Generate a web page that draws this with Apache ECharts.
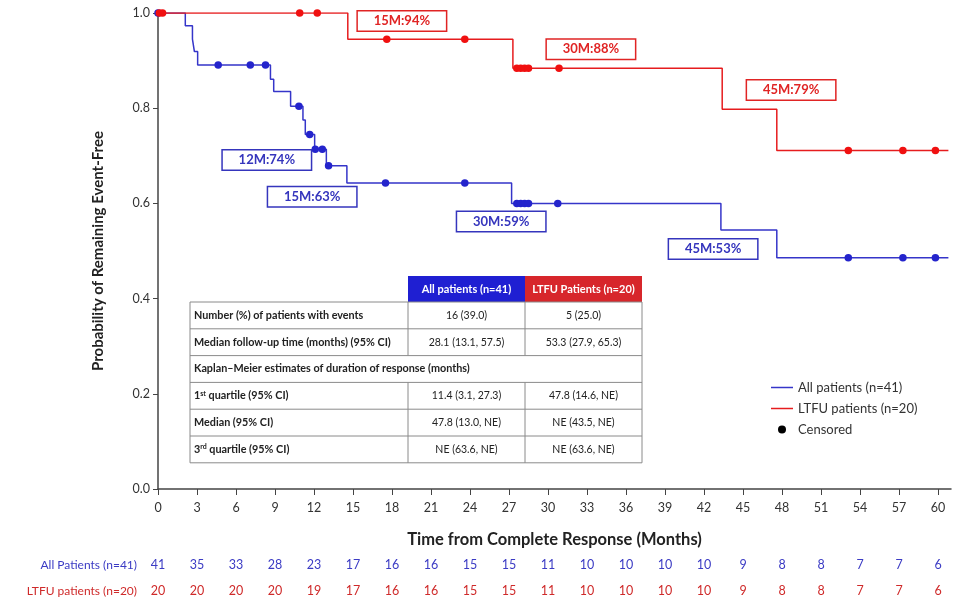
<!DOCTYPE html>
<html>
<head>
<meta charset="utf-8">
<script src="https://cdn.jsdelivr.net/npm/echarts@6/dist/echarts.min.js"></script>
<style>
  html, body { margin: 0; padding: 0; background: #fff; }
  #chart { width: 960px; height: 605px; }
</style>
</head>
<body>
<div id="chart"></div>
<script>
// KM steps: [month, probability after the drop]
var allSteps = [[0, 1.0], [2.1, 0.973], [2.65, 0.945], [2.8, 0.919], [3.05, 0.891], [8.65, 0.861], [8.9, 0.835],
  [10.2, 0.804], [11.15, 0.775], [11.33, 0.745], [12.05, 0.714], [12.95, 0.679], [14.53, 0.643],
  [27.2, 0.600], [43.3, 0.544], [47.6, 0.486], [60.8, 0.486]];
var ltfuSteps = [[0, 1.0], [14.6, 0.945], [27.3, 0.884], [43.4, 0.798], [47.6, 0.711], [60.8, 0.711]];
// censored times (months)
var allCensored = [0, 4.63, 7.1, 8.27, 10.84, 11.67, 12.1, 12.64, 13.12, 17.5, 23.6, 27.6, 27.9, 28.2, 28.5, 30.75, 53.1, 57.3, 59.8];
var ltfuCensored = [0.1, 0.35, 10.9, 12.25, 17.6, 23.6, 27.6, 27.9, 28.2, 28.5, 30.85, 53.1, 57.3, 59.8];
// landmark labels: [text, month, probability of box centre]
var allMarks = [['12M:74%', 8.37, 0.691], ['15M:63%', 11.86, 0.614], ['30M:59%', 26.4, 0.562], ['45M:53%', 42.7, 0.504]];
var ltfuMarks = [['15M:94%', 18.76, 0.983], ['30M:88%', 33.3, 0.924], ['45M:79%', 48.7, 0.838]];
// number at risk
var riskTimes = [0, 3, 6, 9, 12, 15, 18, 21, 24, 27, 30, 33, 36, 39, 42, 45, 48, 51, 54, 57, 60];
var riskAll = [41, 35, 33, 28, 23, 17, 16, 16, 15, 15, 11, 10, 10, 10, 10, 9, 8, 8, 7, 7, 6];
var riskLtfu = [20, 20, 20, 20, 19, 17, 16, 16, 15, 15, 11, 10, 10, 10, 10, 9, 8, 8, 7, 7, 6];
// inset table
var tblHeader = ['All patients (n=41)', 'LTFU Patients (n=20)'];
var tblRows = [
  ['Number (%) of patients with events', '16 (39.0)', '5 (25.0)'],
  ['Median follow-up time (months) (95% CI)', '28.1 (13.1, 57.5)', '53.3 (27.9, 65.3)'],
  ['Kaplan\u2013Meier estimates of duration of response (months)'],
  ['1{s|st} quartile (95% CI)', '11.4 (3.1, 27.3)', '47.8 (14.6, NE)'],
  ['Median (95% CI)', '47.8 (13.0, NE)', 'NE (43.5, NE)'],
  ['3{s|rd} quartile (95% CI)', 'NE (63.6, NE)', 'NE (63.6, NE)']
];

var FONT = 'Lato, "Open Sans", sans-serif';
var BLUE = '#3535c9', RED = '#e61c1e';

function levelAt(steps, t) {
  var v = steps[0][1];
  for (var i = 0; i < steps.length; i++) {
    if (steps[i][0] <= t) v = steps[i][1];
  }
  return v;
}
function censorPoints(steps, times) {
  return times.map(function (t) { return [t, levelAt(steps, t)]; });
}
function markSeries(marks, color) {
  return {
    type: 'scatter', silent: true, symbolSize: 0, z: 5,
    itemStyle: { opacity: 1 },
    data: marks.map(function (m) { return { value: [m[1], m[2]], name: m[0] }; }),
    label: {
      show: true, position: 'inside', formatter: '{b}',
      color: color, fontFamily: FONT, fontWeight: 'bold', fontSize: 13,
      width: 84, height: 17, lineHeight: 17, align: 'center',
      backgroundColor: '#fff', borderColor: color, borderWidth: 1.5, padding: [1, 2]
    }
  };
}

var chart = echarts.init(document.getElementById('chart'));
var option = {
  animation: false,
  backgroundColor: '#fff',
  grid: { left: 158, right: 9, top: 13, bottom: 116 },
  xAxis: {
    type: 'value', min: 0, max: 61,
    name: 'Time from Complete Response (Months)', nameLocation: 'middle', nameGap: 42,
    nameTextStyle: { fontFamily: FONT, fontWeight: 'bold', fontSize: 16.5, color: '#222' },
    axisLine: { lineStyle: { color: '#444', width: 1.5 } },
    axisTick: { length: 6, lineStyle: { color: '#444' }, customValues: riskTimes },
    axisLabel: { customValues: riskTimes, margin: 12, fontFamily: FONT, fontSize: 12.5, color: '#333' },
    splitLine: { show: false }
  },
  yAxis: {
    type: 'value', min: 0, max: 1, interval: 0.2,
    name: 'Probability of Remaining Event-Free', nameLocation: 'middle', nameGap: 52,
    nameTextStyle: { fontFamily: FONT, fontWeight: 'bold', fontSize: 15, color: '#222' },
    axisLine: { show: true, lineStyle: { color: '#444', width: 1.5 } },
    axisTick: { show: true, length: 5, lineStyle: { color: '#444' } },
    axisLabel: { margin: 8, fontFamily: FONT, fontSize: 12.5, color: '#333',
      formatter: function (v) { return v.toFixed(1); } },
    splitLine: { show: false }
  },
  legend: {
    orient: 'vertical', left: 766, top: 376, itemGap: 8, itemWidth: 22, itemHeight: 8,
    textStyle: { fontFamily: FONT, fontSize: 13, color: '#333' },
    data: [
      { name: 'All patients (n=41)', icon: 'path://M0,0 L22,0 L22,1.5 L0,1.5 Z' },
      { name: 'LTFU patients (n=20)', icon: 'path://M0,0 L22,0 L22,1.5 L0,1.5 Z' },
      { name: 'Censored', icon: 'circle' }
    ]
  },
  series: [
    { name: 'All patients (n=41)', type: 'line', step: 'end', data: allSteps, symbol: 'none',
      color: BLUE, lineStyle: { color: BLUE, width: 1.5 }, z: 2 },
    { name: 'LTFU patients (n=20)', type: 'line', step: 'end', data: ltfuSteps, symbol: 'none',
      color: RED, lineStyle: { color: RED, width: 1.5 }, z: 2 },
    { name: 'allCens', type: 'scatter', data: censorPoints(allSteps, allCensored), symbolSize: 7.5,
      itemStyle: { color: '#2424cc', opacity: 1 }, z: 3 },
    { name: 'ltfuCens', type: 'scatter', data: censorPoints(ltfuSteps, ltfuCensored), symbolSize: 7.5,
      itemStyle: { color: '#f01010', opacity: 1 }, z: 3 },
    { name: 'Censored', type: 'scatter', data: [], color: '#000', itemStyle: { color: '#000', opacity: 1 } },
    markSeries(allMarks, '#3535bd'),
    markSeries(ltfuMarks, '#e02424')
  ]
};
chart.setOption(option);

// inset table and number-at-risk rows
var g = [];
var tx0 = 190, tx1 = 408, tx2 = 525, tx3 = 642, headTop = 276, rowTop = 302, rowH = 26.8;
var border = { stroke: '#8a8a8a', lineWidth: 1 };
var cellFont = { fontFamily: FONT, fontSize: 10.5, fill: '#222' };

g.push({ type: 'rect', shape: { x: tx1, y: headTop, width: tx2 - tx1, height: rowTop - headTop }, style: { fill: '#1f1fd2' }, z: 10 });
g.push({ type: 'rect', shape: { x: tx2, y: headTop, width: tx3 - tx2, height: rowTop - headTop }, style: { fill: '#d7262b' }, z: 10 });
[tx1, tx2].forEach(function (x, i) {
  g.push({ type: 'text', z: 11, x: (x + [tx2, tx3][i]) / 2, y: (headTop + rowTop) / 2,
    style: { text: tblHeader[i], fill: '#fff', fontFamily: FONT, fontSize: 11, fontWeight: 'bold',
      align: 'center', verticalAlign: 'middle' } });
});
g.push({ type: 'rect', shape: { x: tx0, y: rowTop, width: tx3 - tx0, height: rowH * tblRows.length },
  style: { fill: '#fff', stroke: border.stroke, lineWidth: 1 }, z: 10 });
tblRows.forEach(function (r, i) {
  var y0 = rowTop + i * rowH, yc = y0 + rowH / 2;
  if (i > 0) g.push({ type: 'line', z: 11, shape: { x1: tx0, y1: y0, x2: tx3, y2: y0 }, style: border });
  g.push({ type: 'text', z: 11, x: tx0 + 4, y: yc,
    style: { text: r[0], fontFamily: FONT, fontSize: 10.8, fontWeight: 'bold', fill: '#222', verticalAlign: 'middle',
      rich: { s: { fontSize: 7, fontWeight: 'bold', fontFamily: FONT, fill: '#222', verticalAlign: 'top', padding: [0, 0, 5, 0] } } } });
  if (r.length > 1) {
    g.push({ type: 'line', z: 11, shape: { x1: tx1, y1: y0, x2: tx1, y2: y0 + rowH }, style: border });
    g.push({ type: 'line', z: 11, shape: { x1: tx2, y1: y0, x2: tx2, y2: y0 + rowH }, style: border });
    g.push({ type: 'text', z: 11, x: (tx1 + tx2) / 2, y: yc,
      style: Object.assign({ text: r[1], align: 'center', verticalAlign: 'middle' }, cellFont) });
    g.push({ type: 'text', z: 11, x: (tx2 + tx3) / 2, y: yc,
      style: Object.assign({ text: r[2], align: 'center', verticalAlign: 'middle' }, cellFont) });
  }
});

var riskRows = [['All Patients (n=41)', riskAll, '#3b3bc4', 565], ['LTFU patients (n=20)', riskLtfu, '#cf2a2a', 591]];
riskRows.forEach(function (row) {
  g.push({ type: 'text', x: 137, y: row[3],
    style: { text: row[0], fill: row[2], fontFamily: FONT, fontSize: 12, align: 'right', verticalAlign: 'middle' } });
  riskTimes.forEach(function (t, i) {
    var px = chart.convertToPixel({ xAxisIndex: 0 }, t);
    g.push({ type: 'text', x: px, y: row[3],
      style: { text: String(row[1][i]), fill: row[2], fontFamily: FONT, fontSize: 12.5, align: 'center', verticalAlign: 'middle' } });
  });
});
chart.setOption({ graphic: g });
</script>
</body>
</html>
